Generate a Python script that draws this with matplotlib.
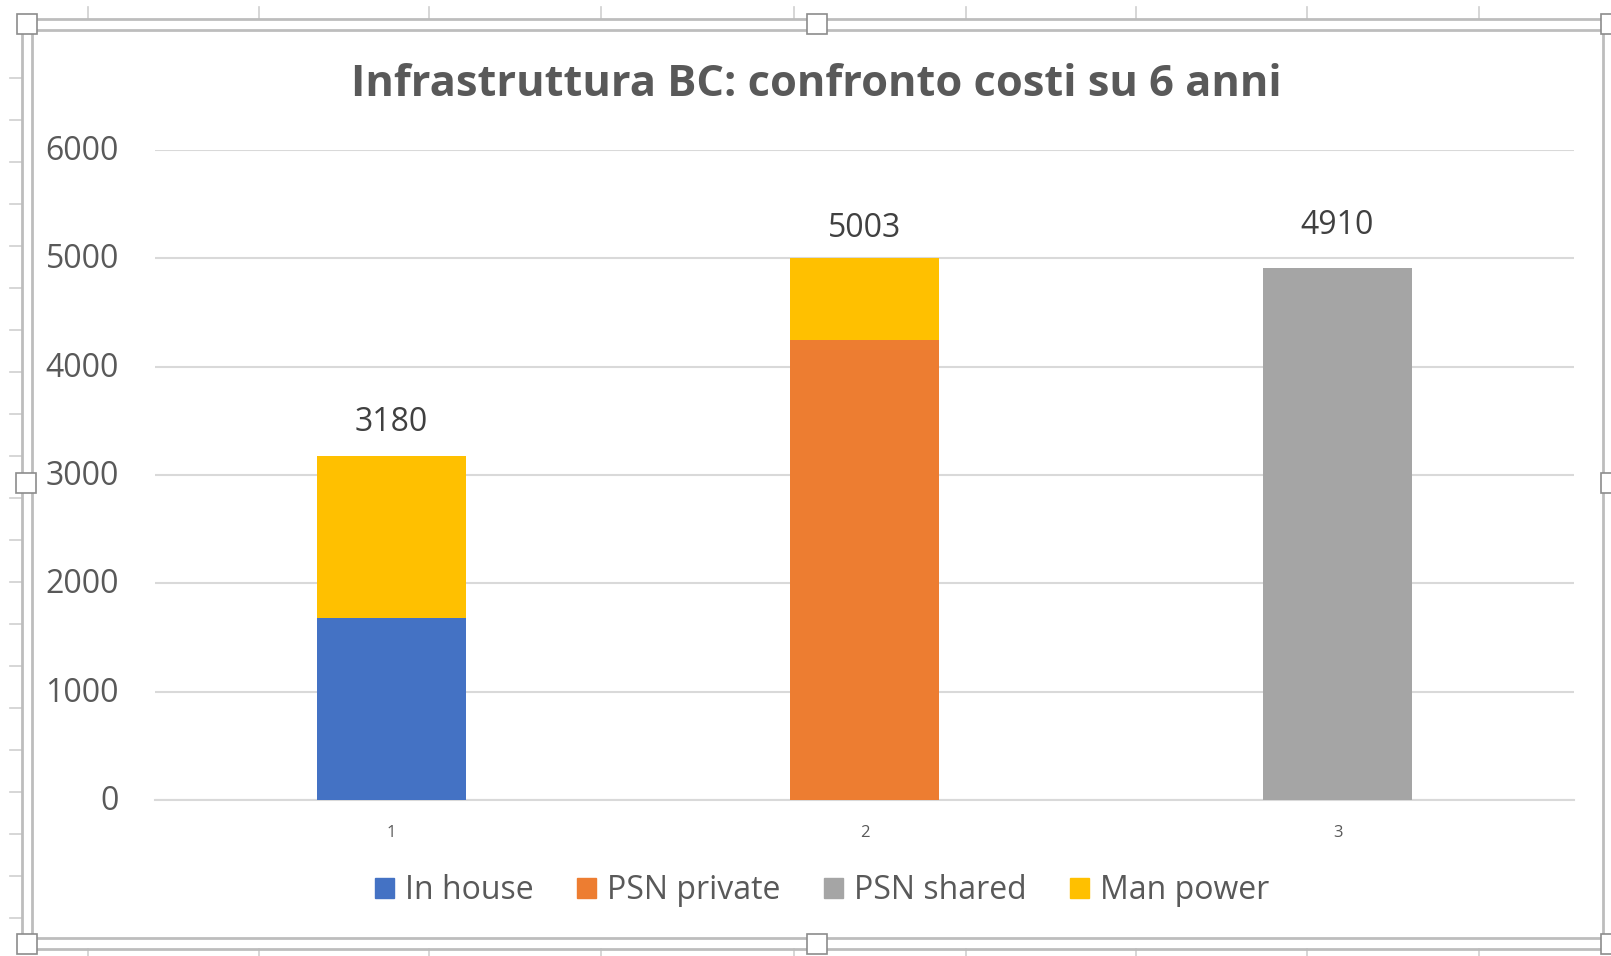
import matplotlib
matplotlib.use("Agg")
import matplotlib.pyplot as plt
from matplotlib.lines import Line2D
from matplotlib.patches import Rectangle
from matplotlib.transforms import ScaledTranslation
import numpy as np

# ---- data ----
categories = ["1", "2", "3"]
in_house = [1680, 0, 0]
psn_private = [0, 4243, 0]
psn_shared = [0, 0, 4910]
man_power = [1500, 760, 0]
totals = [3180, 5003, 4910]
series_names = ["In house", "PSN private", "PSN shared", "Man power"]
series_colors = ["#4472C4", "#ED7D31", "#A5A5A5", "#FFC000"]
yticks = [0, 1000, 2000, 3000, 4000, 5000, 6000]
title = "Infrastruttura BC: confronto costi su 6 anni"

# label offsets above bar tops (points)
label_offsets = [23.5, 21, 31]

W, H = 1611, 956
plt.rcParams['font.family'] = ['Open Sans', 'DejaVu Sans']
fig = plt.figure(figsize=(W / 100, H / 100), dpi=100)
fig.patch.set_facecolor("white")

def fx(x):
    return x / W

def fy(y):
    return 1 - y / H

ax = fig.add_axes([fx(155), fy(800), fx(1574) - fx(155), fy(150) - fy(800)])
x = np.arange(len(categories))
w = 0.314
bottom = np.zeros(len(categories))
stack = [in_house, psn_private, psn_shared, man_power]
for vals, name, col in zip(stack, series_names, series_colors):
    ax.bar(x, vals, w, bottom=bottom, color=col, label=name, zorder=3)
    bottom += np.array(vals)

for xi, t, off in zip(x, totals, label_offsets):
    ax.annotate(str(t), (xi, t), xytext=(0, off), textcoords="offset points",
                ha="center", va="center", fontsize=23, color="#404040")

ax.set_xlim(-0.5, 2.5)
ax.set_ylim(0, 6000)
ax.set_yticks(yticks)
ax.set_yticklabels([str(v) for v in yticks])
ax.set_xticks(x)
ax.set_xticklabels(categories)
ax.tick_params(axis="y", length=0, pad=26, labelsize=23, labelcolor="#595959")
ax.tick_params(axis="x", length=0, pad=18, labelsize=12, labelcolor="#595959")
shift = ScaledTranslation(0, 2.5 / 100, fig.dpi_scale_trans)
for lab in ax.get_yticklabels():
    lab.set_transform(lab.get_transform() + shift)
ax.grid(axis="y", color="#D9D9D9", linewidth=1.5, zorder=0)
for s in ["top", "right", "left"]:
    ax.spines[s].set_visible(False)
ax.spines["bottom"].set_color("#D9D9D9")
ax.spines["bottom"].set_linewidth(1.5)
ax.set_facecolor("none")

fig.text(fx(816), fy(84), title, ha="center", va="center", fontsize=31.2,
         fontweight="bold", color="#595959")

handles = [Rectangle((0, 0), 1, 1, color=c) for c in series_colors]
fig.legend(handles, series_names, loc="center", ncol=4,
           bbox_to_anchor=(fx(822), fy(891)), frameon=False, fontsize=23,
           handlelength=0.6, handleheight=0.6, handletextpad=0.35,
           columnspacing=1.35, labelcolor="#595959")

# ---- Excel-style selection frame decorations ----
frame_col = "#BDBDBD"
def line(x0, y0, x1, y1, lw=2.0, c=frame_col):
    fig.add_artist(Line2D([fx(x0), fx(x1)], [fy(y0), fy(y1)], color=c, lw=lw,
                          transform=fig.transFigure))

# background sheet ticks
for yy in range(78, 950, 42):
    line(10, yy, 22, yy, lw=1.2, c="#CFCFCF")
for xx in [88, 259, 429, 601, 794, 966, 1136, 1307, 1479]:
    line(xx, 7, xx, 19, lw=1.2, c="#CFCFCF")
    line(xx, 949, xx, 956, lw=1.2, c="#CFCFCF")

# double frame
line(22, 19, 1611, 19)
line(32, 30, 1603, 30)
line(22, 19, 22, 949)
line(32, 30, 32, 938)
line(22, 949, 1611, 949)
line(32, 938, 1603, 938)
line(1603, 30, 1603, 938)

# handles
for (hx, hy) in [(27, 24), (817, 24), (1611, 24), (26, 483), (1611, 483),
                 (27, 944), (817, 944), (1611, 944)]:
    s = 20
    fig.add_artist(Rectangle((fx(hx - s / 2), fy(hy + s / 2)), fx(s), s / H,
                             facecolor="white", edgecolor="#8C8C8C", lw=1.2,
                             transform=fig.transFigure, zorder=10))

fig.savefig("out.png", dpi=100)
